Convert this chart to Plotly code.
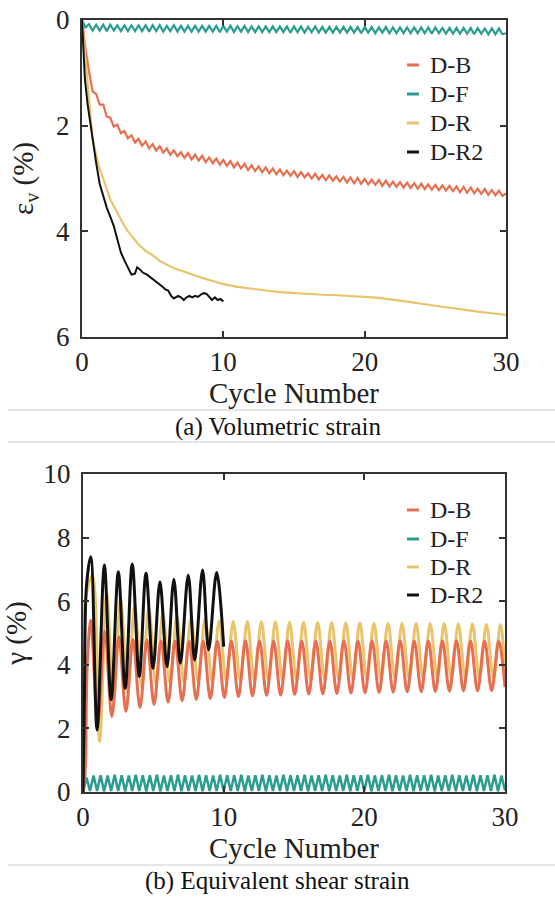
import numpy as np
import plotly.graph_objects as go

# ---------------- data : panel (a) volumetric strain ----------------
grid_q = np.linspace(0, 30, 121)  # quarter-cycle sample grid

vol_DB = [0.00,0.55,0.98,1.35,1.40,1.60,1.60,1.83,1.85,2.02,
          1.98,2.14,2.10,2.24,2.18,2.32,2.25,2.38,2.30,2.43,
          2.35,2.47,2.39,2.51,2.43,2.55,2.47,2.58,2.50,2.61,
          2.52,2.64,2.55,2.66,2.57,2.69,2.60,2.71,2.62,2.74,
          2.65,2.76,2.67,2.79,2.70,2.81,2.72,2.84,2.75,2.86,
          2.77,2.88,2.79,2.90,2.81,2.92,2.83,2.94,2.85,2.95,
          2.86,2.97,2.88,2.98,2.90,3.00,2.91,3.02,2.93,3.03,
          2.94,3.04,2.96,3.06,2.97,3.08,2.98,3.09,2.99,3.10,
          3.01,3.11,3.02,3.12,3.03,3.14,3.04,3.15,3.06,3.16,
          3.07,3.17,3.08,3.18,3.09,3.19,3.10,3.20,3.11,3.21,
          3.12,3.22,3.13,3.23,3.14,3.24,3.15,3.26,3.16,3.27,
          3.17,3.28,3.19,3.29,3.20,3.31,3.22,3.32,3.23,3.33,
          3.28]

vol_DF = [0.00,0.14,0.08,0.20,0.09,0.20,0.09,0.21,0.09,0.20,
          0.10,0.21,0.10,0.21,0.10,0.21,0.10,0.21,0.10,0.22,
          0.10,0.21,0.10,0.22,0.11,0.21,0.10,0.22,0.11,0.22,
          0.11,0.22,0.11,0.22,0.11,0.22,0.11,0.22,0.11,0.23,
          0.11,0.22,0.11,0.23,0.12,0.22,0.11,0.23,0.12,0.23,
          0.12,0.23,0.12,0.23,0.12,0.23,0.12,0.23,0.12,0.24,
          0.12,0.23,0.12,0.24,0.13,0.23,0.12,0.24,0.13,0.24,
          0.13,0.24,0.13,0.24,0.13,0.24,0.13,0.24,0.13,0.25,
          0.13,0.24,0.13,0.25,0.14,0.24,0.13,0.25,0.14,0.25,
          0.14,0.25,0.14,0.25,0.14,0.25,0.14,0.25,0.14,0.26,
          0.14,0.25,0.15,0.26,0.15,0.26,0.15,0.26,0.15,0.26,
          0.15,0.27,0.15,0.26,0.16,0.27,0.16,0.27,0.16,0.27,
          0.25]

vol_DR_x = [0,0.25,0.5,0.75,1,1.25,1.5,1.75,2,2.25,2.5,2.75,3,3.25,3.5,3.75,4,
            4.5,5,5.5,6,6.5,7,7.5,8,8.5,9,9.5,10,11,12,13,14,15,16,17,18,19,20,
            21,22,23,24,25,26,27,28,29,30]
vol_DR = [0,0.70,1.50,2.25,2.55,2.82,3.00,3.20,3.40,3.52,3.65,3.80,3.90,4.00,4.08,4.15,4.25,
          4.37,4.45,4.56,4.63,4.70,4.74,4.79,4.83,4.88,4.92,4.96,5.00,5.05,5.09,5.12,5.15,5.17,
          5.19,5.20,5.21,5.22,5.24,5.26,5.29,5.33,5.37,5.41,5.45,5.49,5.52,5.55,5.58]

vol_DR2_x = [0,0.1,0.2,0.4,0.6,0.8,1.0,1.25,1.5,1.75,2.0,2.25,2.5,2.75,3.0,3.25,3.5,3.75,
             3.9,4.1,4.3,4.6,4.9,5.2,5.5,5.7,5.9,6.1,6.3,6.5,6.8,7.0,7.2,7.4,7.6,7.8,8.0,
             8.2,8.4,8.6,8.8,9.0,9.2,9.4,9.6,9.8,10.0]
vol_DR2 = [0,0.60,1.10,1.60,2.00,2.35,2.70,3.10,3.35,3.55,3.72,3.90,4.15,4.40,4.55,4.70,4.82,4.80,
           4.68,4.72,4.78,4.82,4.88,4.95,5.00,5.05,5.10,5.12,5.22,5.27,5.22,5.25,5.30,5.25,5.22,5.25,5.22,
           5.24,5.20,5.17,5.18,5.25,5.30,5.25,5.30,5.28,5.33]

# ---------------- data : panel (b) equivalent shear strain ----------------
shr_DB_start_x = [0, 0.15, 0.3]
shr_DB_start = [0, 0.6, 4.0]
shr_DB_peaks = [5.40,5.05,4.88,4.80,4.78,4.76,4.75,4.75,4.75,4.75,4.75,4.76,4.75,4.75,4.76,
                4.75,4.75,4.75,4.76,4.75,4.75,4.75,4.76,4.75,4.75,4.75,4.76,4.75,4.75,4.75]
shr_DB_troughs = [2.20,2.37,2.53,2.65,2.75,2.82,2.87,2.91,2.94,2.97,3.00,3.02,3.04,3.05,3.07,
                  3.08,3.09,3.10,3.11,3.12,3.13,3.14,3.15,3.15,3.16,3.17,3.18,3.18,3.19]
shr_DB_end = 3.30

shr_DR_start_x = [0, 0.08, 0.15]
shr_DR_start = [0, 3.0, 6.0]
shr_DR_peaks = [6.82,6.25,6.04,5.90,5.78,5.62,5.53,5.46,5.43,5.38,5.36,5.36,5.35,5.35,5.34,
                5.34,5.33,5.33,5.32,5.32,5.31,5.31,5.30,5.30,5.29,5.29,5.28,5.28,5.27,5.27]
shr_DR_troughs = [1.58,2.85,3.15,3.30,3.38,3.42,3.45,3.47,3.48,3.50,3.50,3.51,3.52,3.52,3.53,
                  3.53,3.54,3.54,3.55,3.55,3.55,3.56,3.56,3.56,3.57,3.57,3.57,3.58,3.58]
shr_DR_end = 3.70

shr_DR2_x = [0,0.1,0.25,0.55,1.0,1.52,2.0,2.51,3.0,3.5,4.0,4.48,4.98,5.47,5.97,6.46,6.92,
             7.48,7.94,8.5,8.93,9.5,10.0]
shr_DR2 = [0,3.0,6.5,7.40,1.95,7.14,2.90,6.93,3.26,7.17,3.63,6.88,3.89,6.61,3.94,6.69,4.05,
           6.82,4.15,6.98,4.47,6.90,4.57]

shr_DF = [0.00,0.45,0.03,0.52,0.03,0.53,0.02,0.52,0.03,0.54,
          0.03,0.53,0.02,0.52,0.03,0.54,0.03,0.53,0.02,0.53,
          0.03,0.54,0.02,0.52,0.03,0.53,0.03,0.54,0.02,0.53,
          0.03,0.52,0.03,0.54,0.02,0.53,0.03,0.52,0.03,0.54,
          0.02,0.53,0.03,0.53,0.03,0.54,0.02,0.52,0.03,0.53,
          0.03,0.54,0.02,0.53,0.03,0.52,0.03,0.54,0.02,0.53,
          0.03,0.53,0.03,0.54,0.02,0.52,0.03,0.53,0.03,0.54,
          0.02,0.53,0.03,0.52,0.03,0.54,0.02,0.53,0.03,0.53,
          0.03,0.54,0.02,0.52,0.03,0.53,0.03,0.54,0.02,0.53,
          0.03,0.52,0.03,0.54,0.02,0.53,0.03,0.53,0.03,0.54,
          0.02,0.52,0.03,0.53,0.03,0.54,0.02,0.53,0.03,0.52,
          0.03,0.54,0.02,0.53,0.03,0.53,0.03,0.54,0.02,0.52,
          0.05]

series_names = ["D-B", "D-F", "D-R", "D-R2"]
colors = {"D-B": "#e76f51", "D-F": "#2a9d8f", "D-R": "#e9c46a", "D-R2": "#111111"}

x_ticks = [0, 10, 20, 30]
vol_ticks = [0, 2, 4, 6]
shr_ticks = [0, 2, 4, 6, 8, 10]


def osc_series(start_x, start_y, peaks, troughs, peak_phase, trough_phase, end_y):
    xs, ys = list(start_x), list(start_y)
    for k in range(len(peaks)):
        xs.append(k + peak_phase); ys.append(peaks[k])
        if k < len(troughs):
            xs.append(k + 1 + trough_phase); ys.append(troughs[k])
    xs.append(30.0); ys.append(end_y)
    return xs, ys


db_x, db_y = osc_series(shr_DB_start_x, shr_DB_start, shr_DB_peaks, shr_DB_troughs, 0.55, 0.05, shr_DB_end)
dr_x, dr_y = osc_series(shr_DR_start_x, shr_DR_start, shr_DR_peaks, shr_DR_troughs, 0.68, 0.18, shr_DR_end)

fig = go.Figure()
# panel a
fig.add_trace(go.Scatter(x=grid_q, y=vol_DB, mode="lines", line=dict(color=colors["D-B"], width=2.2), xaxis="x", yaxis="y"))
fig.add_trace(go.Scatter(x=grid_q, y=vol_DF, mode="lines", line=dict(color=colors["D-F"], width=2.2), xaxis="x", yaxis="y"))
fig.add_trace(go.Scatter(x=vol_DR_x, y=vol_DR, mode="lines", line=dict(color=colors["D-R"], width=2.2), xaxis="x", yaxis="y"))
fig.add_trace(go.Scatter(x=vol_DR2_x, y=vol_DR2, mode="lines", line=dict(color=colors["D-R2"], width=2), xaxis="x", yaxis="y"))
# panel b
fig.add_trace(go.Scatter(x=grid_q, y=shr_DF, mode="lines", line=dict(color=colors["D-F"], width=2.5), xaxis="x2", yaxis="y2"))
fig.add_trace(go.Scatter(x=dr_x, y=dr_y, mode="lines", line=dict(color=colors["D-R"], width=3, shape="spline", smoothing=1.0), xaxis="x2", yaxis="y2"))
fig.add_trace(go.Scatter(x=db_x, y=db_y, mode="lines", line=dict(color=colors["D-B"], width=3, shape="spline", smoothing=1.0), xaxis="x2", yaxis="y2"))
fig.add_trace(go.Scatter(x=shr_DR2_x, y=shr_DR2, mode="lines", line=dict(color=colors["D-R2"], width=3, shape="spline", smoothing=1.0), xaxis="x2", yaxis="y2"))

W, H = 555, 897
FONT = "Liberation Serif"
axis_common = dict(showline=True, linecolor="#333333", linewidth=2, mirror="ticks",
                   ticks="inside", ticklen=6, tickwidth=1.5, tickcolor="#333333",
                   showgrid=False, zeroline=False, automargin=False,
                   tickfont=dict(family=FONT, size=27, color="#222222"))
title_font = dict(family=FONT, size=29, color="#222222")

fig.update_layout(
    width=W, height=H, margin=dict(l=0, r=0, t=0, b=0, autoexpand=False),
    paper_bgcolor="white", plot_bgcolor="white", showlegend=False,
    font=dict(family=FONT),
    xaxis=dict(domain=[82/W, 506/W], anchor="y", range=[0, 30], tickvals=x_ticks,
               title=dict(text="Cycle Number", font=title_font, standoff=2),
               **axis_common),
    yaxis=dict(domain=[1-337/H, 1-20/H], anchor="x", range=[6, 0], tickvals=vol_ticks,
               ticklabelstandoff=5,
               title=dict(text="ε<sub>v</sub> (%)", font=title_font, standoff=14),
               **axis_common),
    xaxis2=dict(domain=[83/W, 505/W], anchor="y2", range=[0, 30], tickvals=x_ticks,
                title=dict(text="Cycle Number", font=title_font, standoff=2),
                **axis_common),
    yaxis2=dict(domain=[1-792/H, 1-474/H], anchor="x2", range=[0, 10], tickvals=shr_ticks,
                ticklabelstandoff=5,
                title=dict(text="γ (%)", font=title_font, standoff=14),
                **axis_common),
)

# custom legends (short line swatches + labels)
shapes, annots = [], []
for legend_rows in ([65, 94, 123, 152], [510, 539, 567, 595]):
    for name, py in zip(series_names, legend_rows):
        shapes.append(dict(type="line", xref="paper", yref="paper",
                           x0=407/W, x1=419/W, y0=1-py/H, y1=1-py/H,
                           line=dict(color=colors[name], width=3)))
        annots.append(dict(text=name, xref="paper", yref="paper", x=428/W, y=1-py/H,
                           xanchor="left", yanchor="middle", showarrow=False,
                           font=dict(family=FONT, size=24, color="#222222")))

# caption separator lines
for py in (410, 442, 865):
    shapes.append(dict(type="line", xref="paper", yref="paper", x0=8/W, x1=1, y0=1-py/H, y1=1-py/H,
                       line=dict(color="#cccccc", width=1)))

annots.append(dict(text="(a) Volumetric strain", xref="paper", yref="paper", x=0.5, y=1-427/H,
                   xanchor="center", yanchor="middle", showarrow=False,
                   font=dict(family=FONT, size=25, color="#111111")))
annots.append(dict(text="(b) Equivalent shear strain", xref="paper", yref="paper", x=0.5, y=1-881/H,
                   xanchor="center", yanchor="middle", showarrow=False,
                   font=dict(family=FONT, size=25, color="#111111")))

fig.update_layout(shapes=shapes, annotations=annots)
fig.write_html("out.html")
